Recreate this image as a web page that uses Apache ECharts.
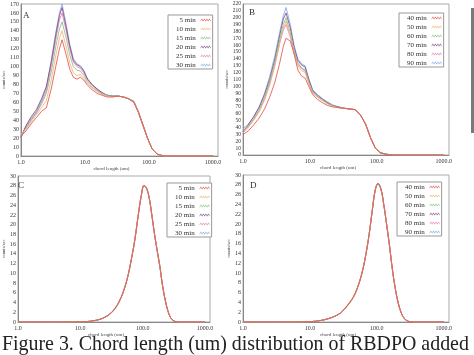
<!DOCTYPE html>
<html><head><meta charset="utf-8">
<script src="https://cdn.jsdelivr.net/npm/echarts@6/dist/echarts.min.js"></script>
<style>html,body{margin:0;padding:0;background:#fff}#c{width:474px;height:355px}</style>
</head><body><div id="c"></div>
<script>
// ---- data ----
const chordAB = [1.0,1.2,1.45,1.75,2.1,2.5,3.0,3.5,4.0,4.4,5.1,5.8,6.6,7.5,8.5,9.6,11,13,15.5,18.5,22,27,33,40,48,58,68,80,95,112,135,165,200,300,1000];
const a05 = [22,28,36,43,50,54,76,100,120,130,113,97,88,86,88,85,79,74,70,68,66,66,67,66,64,60,49,35,20,8,2,0.3,0,0,0];
const a10 = [24,30,38,46,54,62,86,112,132,140,122,104,93,90,91,87,81,76,72,69,67,66,67,66,64,60,50,35,20,8,2,0.3,0,0,0];
const a15 = [23,31,40,48,58,70,95,122,142,150,132,113,100,96,95,90,83,77,73,70,68,67,67,66,64,61,50,35,20,8,2,0.3,0,0,0];
const a20 = [21,34,44,52,64,78,106,135,157,166,144,123,107,102,100,95,86,80,75,71,68,67,67,66,64,61,50,36,20,8,2,0.3,0,0,0];
const a25 = [22,32,41,49,60,73,102,130,152,160,140,120,105,100,98,93,85,79,74,70,68,67,67,66,64,61,50,35,20,8,2,0.3,0,0,0];
const a30 = [20,33,42,50,62,76,108,138,160,170,147,125,109,103,101,96,86,80,75,71,68,67,67,66,64,61,50,35,20,8,2,0.3,0,0,0];

const b40 = [30,35,44,54,67,84,106,132,158,170,166,147,124,115,112,100,88,81,76,72,70,69,68,67,66,57,45,26,10,3.5,1.2,0.3,0,0,0];
const b50 = [32,40,51,63,80,101,130,160,185,195,173,148,130,123,120,104,90,84,79,74,71,69,68,67,66,57,45,26,10,3.5,1.2,0.3,0,0,0];
const b60 = [36,42,53,66,84,106,135,166,190,200,178,152,134,127,124,107,92,86,80,75,72,69,68,67,66,57,45,26,10,3.5,1.2,0.3,0,0,0];
const b70 = [34,44,56,70,88,110,140,172,198,207,185,157,138,131,128,110,94,87,81,76,72,70,68,67,66,57,45,26,10,3.5,1.2,0.3,0,0,0];
const b80 = [35,41,52,65,82,104,132,162,182,190,172,150,132,126,122,106,91,85,80,75,72,69,68,67,66,57,45,26,10,3.5,1.2,0.3,0,0,0];
const b90 = [38,45,56,70,90,114,145,177,203,215,190,160,140,133,130,112,95,88,82,77,73,70,68,67,66,57,45,26,10,3.5,1.2,0.3,0,0,0];

const chordC = [1,5,10,13,16,20,25,30,36,43,50,58,66,75,85,95,105,115,127,140,155,170,188,208,230,255,280,310,350,400,1000];
const c05 = [0,0,0.05,0.1,0.25,0.5,1.0,1.7,2.8,4.5,6.6,9.5,13,17,22,26,28,27.5,25.5,22,18,14.8,11.5,7.5,4.5,2.2,0.9,0.3,0.05,0,0];
const c10 = [0,0,0.05,0.1,0.25,0.5,1.0,1.7,2.9,4.6,6.7,9.6,13.1,17.2,22.2,26.1,27.9,27.4,25.4,21.9,17.9,14.7,11.4,7.4,4.4,2.1,0.9,0.3,0.05,0,0];
const c15 = [0,0,0.05,0.1,0.25,0.5,1.0,1.6,2.7,4.4,6.5,9.4,12.9,16.9,21.9,25.9,27.9,27.6,25.6,22.1,18.1,14.9,11.6,7.6,4.5,2.2,0.9,0.3,0.05,0,0];
const c20 = [0,0,0.05,0.1,0.25,0.5,1.0,1.7,2.8,4.5,6.6,9.5,13,17.1,22.1,26,28,27.5,25.5,22,18,14.8,11.5,7.5,4.5,2.2,0.9,0.3,0.05,0,0];
const c25 = [0,0,0.05,0.1,0.25,0.5,1.0,1.7,2.8,4.5,6.6,9.5,13,17,22,26,28.1,27.6,25.5,22,18,14.8,11.5,7.5,4.5,2.2,0.9,0.3,0.05,0,0];
const c30 = [0,0,0.05,0.1,0.25,0.5,1.0,1.7,2.8,4.5,6.6,9.5,13,17,22,26,27.9,27.4,25.4,21.9,17.9,14.7,11.4,7.4,4.4,2.1,0.9,0.3,0.05,0,0];

const chordD = [1,5,9,12,15,18,22,27,32,38,45,52,60,68,77,86,95,104,115,127,140,155,170,188,208,230,255,280,320,400,1000];
const d40 = [0,0,0.05,0.15,0.35,0.6,1.0,1.6,2.5,3.7,5.2,7.2,10,13.5,18,23,27,28.2,27.2,24,20,15.5,11,7,4,2,0.8,0.3,0.05,0,0];
const d50 = [0,0,0.05,0.15,0.35,0.6,1.0,1.6,2.6,3.8,5.3,7.3,10.1,13.6,18.1,23.1,27.1,28.1,27.1,23.9,19.9,15.4,10.9,6.9,3.9,1.9,0.8,0.3,0.05,0,0];
const d60 = [0,0,0.05,0.15,0.35,0.6,1.0,1.6,2.5,3.6,5.1,7.1,9.9,13.4,17.9,22.9,26.9,28.2,27.3,24.1,20.1,15.6,11.1,7.1,4.1,2,0.8,0.3,0.05,0,0];
const d70 = [0,0,0.05,0.15,0.35,0.6,1.0,1.6,2.5,3.7,5.2,7.2,10,13.5,18,23,27,28.3,27.2,24,20,15.5,11,7,4,2,0.8,0.3,0.05,0,0];
const d80 = [0,0,0.05,0.15,0.35,0.6,1.0,1.6,2.5,3.7,5.2,7.2,10,13.5,18,23,27.1,28.2,27.1,23.9,19.9,15.5,11,7,4,2,0.8,0.3,0.05,0,0];
const d90 = [0,0,0.05,0.15,0.35,0.6,1.0,1.6,2.5,3.7,5.2,7.2,10,13.5,18,23,26.9,28.1,27.1,24,20,15.5,11,7,4,2,0.8,0.3,0.05,0,0];

const namesAC = ['5 min','10 min','15 min','20 min','25 min','30 min'];
const namesBD = ['40 min','50 min','60 min','70 min','80 min','90 min'];
const colors = ['#e8534f','#f2b27a','#86bf8a','#7b4f86','#e77fb0','#86a9e6'];
const yMaxes = [170, 220, 30, 30];
const yIntervals = [10, 10, 2, 2];
const panelLetters = ['A','B','C','D'];
const xTickLabel = v => v.toFixed(1);

// ---- chart ----
const FONT = 'Liberation Serif';
const grids = [
  {left:19, top:4, width:199, height:152},
  {left:243, top:4, width:206, height:151},
  {left:14, top:176, width:196, height:146},
  {left:243, top:175, width:206, height:147}
].map(g => Object.assign(g, {show:true, borderColor:'#aaa', borderWidth:1, backgroundColor:'#fff'}));

const xAxes = grids.map((g, i) => ({
  type:'log', logBase:10, min:1, max:1200, gridIndex:i,
  axisLine:{show:true, lineStyle:{color:'#888', width:1}},
  axisTick:{show:false}, splitLine:{show:false},
  axisLabel:{fontSize:6, fontFamily:FONT, color:'#333', margin:3,
    formatter: v => { const l = Math.log10(v); return Math.abs(l - Math.round(l)) < 1e-6 ? xTickLabel(v) : ''; }},
  name:'chord length (um)', nameLocation:'middle', nameGap:7,
  nameTextStyle:{fontSize:5, fontFamily:FONT, color:'#444', padding:[0,16,0,0]}
}));
const yAxes = grids.map((g, i) => ({
  type:'value', min:0, max:yMaxes[i], interval:yIntervals[i], gridIndex:i,
  axisLine:{show:true, lineStyle:{color:'#888', width:1}},
  axisTick:{show:false}, splitLine:{show:false},
  axisLabel:{fontSize: i===1 ? 5.5 : 6, fontFamily:FONT, color:'#333', margin:2},
  name:'counts/sec', nameLocation:'middle', nameRotate:90, nameGap: i===1 ? 13 : 12,
  nameTextStyle:{fontSize:4.5, fontFamily:FONT, color:'#444'}
}));

const series = [];
function addPanel(gi, xs, arrs, names, smooth) {
  for (let k = arrs.length - 1; k >= 0; k--) {
    series.push({
      type:'line', name:names[k], xAxisIndex:gi, yAxisIndex:gi,
      data: xs.map((x, j) => [x, arrs[k][j]]),
      symbol:'none', showSymbol:false, smooth: smooth,
      lineStyle:{width:1, color:colors[k], opacity:0.85}, itemStyle:{color:colors[k]},
      animation:false
    });
  }
}
addPanel(0, chordAB, [a05,a10,a15,a20,a25,a30], namesAC, false);
addPanel(1, chordAB, [b40,b50,b60,b70,b80,b90], namesBD, false);
addPanel(2, chordC, [c05,c10,c15,c20,c25,c30], namesAC, 0.4);
addPanel(3, chordD, [d40,d50,d60,d70,d80,d90], namesBD, 0.4);

const wave = 'path://M0,2 L1.25,0 L2.5,2 L3.75,0 L5,2 L6.25,0 L7.5,2 L8.75,0 L10,2 L10,3 L8.75,1 L7.5,3 L6.25,1 L5,3 L3.75,1 L2.5,3 L1.25,1 L0,3 Z';
const legendPos = [[168,15],[399,13],[167,183],[397,182]];
const legends = legendPos.map((p, i) => ({
  data: (i % 2 === 0) ? namesAC : namesBD,
  orient:'vertical', left:p[0], top:p[1], align:'right',
  itemWidth:10, itemHeight:4, itemGap:1, icon:wave,
  padding:[1,2,0,8], borderColor:'#999', borderWidth:1, backgroundColor:'#fff',
  textStyle:{fontFamily:FONT, fontSize:7, color:'#333', lineHeight:8},
  selectedMode:false
}));

const titles = [
  {text:'A', left:23, top:11},
  {text:'B', left:249, top:8},
  {text:'C', left:18, top:181},
  {text:'D', left:250, top:181}
].map(t => Object.assign(t, {padding:0, textStyle:{fontFamily:FONT, fontSize:9, fontWeight:'normal', color:'#333'}}));
titles.push({text:'Figure 3. Chord length (um) distribution of RBDPO added', left:2, top:335, padding:0,
  textStyle:{fontFamily:FONT, fontSize:19.9, fontWeight:'normal', color:'#222'}});

const chart = echarts.init(document.getElementById('c'), null, {renderer:'canvas'});
chart.setOption({
  animation:false,
  backgroundColor:'#fff',
  title: titles,
  legend: legends,
  grid: grids,
  xAxis: xAxes,
  yAxis: yAxes,
  series: series,
  graphic: [
    {type:'rect', left:471, top:8, shape:{width:3, height:125}, style:{fill:'#7a7a7a'}},
    {type:'line', shape:{x1:168, y1:67.5, x2:197, y2:67.5}, style:{stroke:'#333', lineWidth:1}},
    {type:'line', shape:{x1:399, y1:62.5, x2:428, y2:62.5}, style:{stroke:'#333', lineWidth:1}},
    {type:'line', shape:{x1:167, y1:233.5, x2:196, y2:233.5}, style:{stroke:'#333', lineWidth:1}},
    {type:'line', shape:{x1:397, y1:232.5, x2:426, y2:232.5}, style:{stroke:'#333', lineWidth:1}}
  ]
});
</script>
</body></html>
